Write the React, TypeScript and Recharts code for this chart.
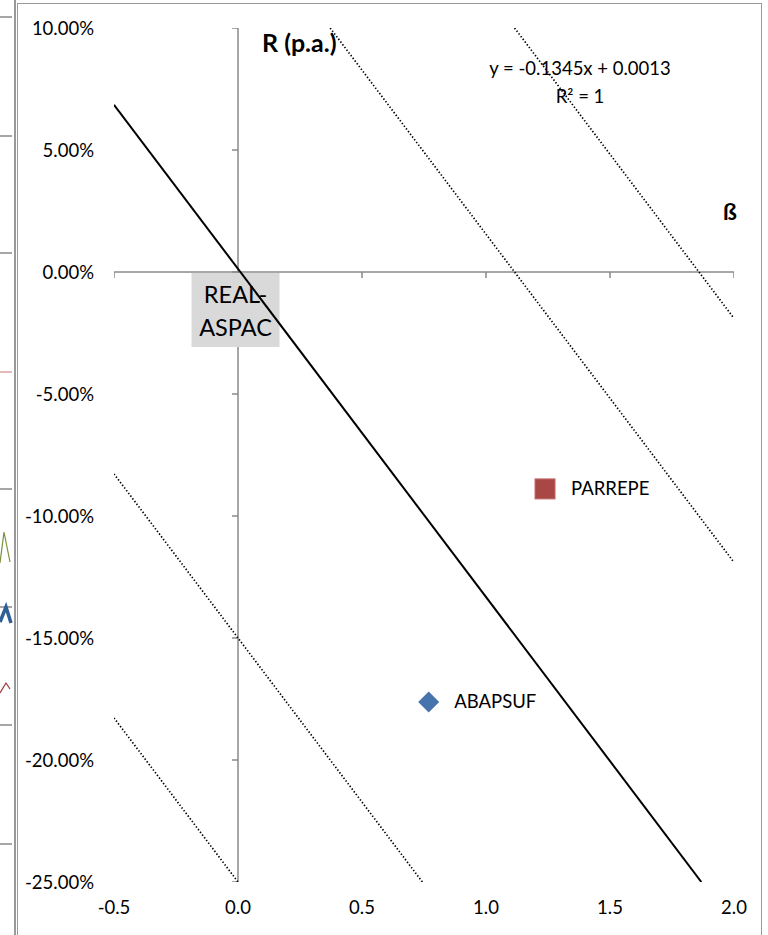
import React from "react";
import { ScatterChart, Scatter, XAxis, YAxis } from "recharts";

// axis scales (beta on x, annual return on y)
const xTicks = [-0.5, 0, 0.5, 1, 1.5, 2];
const yTicks = [-0.25, -0.2, -0.15, -0.1, -0.05, 0, 0.05, 0.1];
const xDomain: [number, number] = [-0.5, 2];
const yDomain: [number, number] = [-0.25, 0.1];

// fitted line y = -0.1345x + 0.0013 and the parallel guide lines
const trendSlope = -0.1345;
const trendIntercept = 0.0013;
const guideIntercepts = [0.25, 0.15, -0.15, -0.25];

// funds
const parrepe = [{ x: 1.238, y: -0.0889, name: "PARREPE" }];
const abapsuf = [{ x: 0.769, y: -0.1762, name: "ABAPSUF" }];
const realAspac = [{ x: -0.01, y: 0.0, name: "REAL-ASPAC" }];

// grey gridline stubs of the neighbouring chart, cut off at the left edge
const strayGridTops = [16, 135, 252, 488, 606, 724, 843];

const FONT = "Lato, 'Open Sans', sans-serif";
const AXIS = "#8a8a8a";

const xAxisPoints = xTicks.map((t) => ({ x: t, y: 0 }));
const yAxisPoints = yTicks.map((t) => ({ x: 0, y: t }));

// keep a line y = m x + b inside the plotted window
function clipLine(m: number, b: number) {
  const pts: { x: number; y: number }[] = [];
  xDomain.forEach((x) => {
    const y = m * x + b;
    if (y >= yDomain[0] - 1e-9 && y <= yDomain[1] + 1e-9) pts.push({ x, y });
  });
  yDomain.forEach((y) => {
    const x = (y - b) / m;
    if (x >= xDomain[0] - 1e-9 && x <= xDomain[1] + 1e-9) pts.push({ x, y });
  });
  pts.sort((a, c) => a.x - c.x);
  return [pts[0], pts[pts.length - 1]];
}

const trendSegment = clipLine(trendSlope, trendIntercept);
const guideSegments = guideIntercepts.map((b) => clipLine(trendSlope, b));

const fmtPct = (v: number) => `${(v * 100).toFixed(2)}%`;

const XTick = ({ x, y, payload }: any) => (
  <text x={x} y={y + 32} textAnchor="middle" fontFamily={FONT} fontSize={18.5} fill="#000">
    {Number(payload.value).toFixed(1)}
  </text>
);

const YTick = ({ x, y, payload }: any) => (
  <text x={x - 20} y={y + 6.5} textAnchor="end" fontFamily={FONT} fontSize={18.5} fill="#000">
    {fmtPct(Number(payload.value))}
  </text>
);

const none = () => <g />;

const xTickMark = ({ cx, cy }: any) => <line x1={cx} x2={cx} y1={cy} y2={cy + 6} stroke={AXIS} strokeWidth={1.5} />;
const yTickMark = ({ cx, cy }: any) => <line x1={cx - 6} x2={cx} y1={cy} y2={cy} stroke={AXIS} strokeWidth={1.5} />;

const squareMark = ({ cx, cy, payload }: any) => (
  <g>
    <rect x={cx - 10} y={cy - 10} width={20} height={20} fill="#a94745" stroke="#c06a68" strokeWidth={1} />
    <text x={cx + 26} y={cy + 6.5} fontFamily={FONT} fontSize={18.5} fill="#000">
      {payload.name}
    </text>
  </g>
);

const diamondMark = ({ cx, cy, payload }: any) => (
  <g>
    <path d={`M${cx},${cy - 10.5} L${cx + 10.5},${cy} L${cx},${cy + 10.5} L${cx - 10.5},${cy} Z`} fill="#4874ad" />
    <text x={cx + 25.5} y={cy + 6.5} fontFamily={FONT} fontSize={18.5} fill="#000">
      {payload.name}
    </text>
  </g>
);

const labelBox = ({ cx, cy, payload }: any) => {
  const [a, b] = String(payload.name).split("-");
  return (
    <g>
      <rect x={cx - 44} y={cy + 1} width={88} height={74} fill="#d9d9d9" />
      <text x={cx} y={cy + 31} textAnchor="middle" fontFamily={FONT} fontSize={23.5} fill="#000">
        {a}-
      </text>
      <text x={cx} y={cy + 64} textAnchor="middle" fontFamily={FONT} fontSize={23.5} fill="#000">
        {b}
      </text>
    </g>
  );
};

export default function App() {
  return (
    <div style={{ position: "absolute", left: 0, top: 0, width: 768, height: 935, background: "#fff", overflow: "hidden" }}>
      {strayGridTops.map((t) => (
        <div key={t} style={{ position: "absolute", left: 0, top: t, width: 12, height: 1.5, background: "#a6a6a6" }} />
      ))}
      <div style={{ position: "absolute", left: 0, top: 371, width: 12, height: 1.5, background: "#e3b9b9" }} />
      <svg width={14} height={935} style={{ position: "absolute", left: 0, top: 0 }}>
        <polyline points="0,563 4,532 10,562" fill="none" stroke="#77933c" strokeWidth={1.2} />
        <polyline points="0,622 6,607 11,623" fill="none" stroke="#2f5f96" strokeWidth={3.5} />
        <polyline points="0,693 6,683 10,689" fill="none" stroke="#953735" strokeWidth={1.2} />
      </svg>
      <div style={{ position: "absolute", left: 14, top: 0, width: 1.5, height: 935, background: "#9a9a9a" }} />
      <div
        style={{
          position: "absolute",
          left: 17,
          top: 3,
          width: 745,
          height: 960,
          border: "1.5px solid #9a9a9a",
          boxSizing: "border-box",
        }}
      />
      <div style={{ position: "absolute", left: 0, top: 0 }}>
        <ScatterChart width={768} height={935} margin={{ top: 28, right: 34, bottom: 0, left: 0 }}>
          <XAxis
            type="number"
            dataKey="x"
            domain={xDomain}
            ticks={xTicks}
            interval={0}
            allowDataOverflow
            axisLine={false}
            tickLine={false}
            tickSize={0}
            tickMargin={0}
            height={53}
            tick={<XTick />}
          />
          <YAxis
            type="number"
            dataKey="y"
            domain={yDomain}
            ticks={yTicks}
            interval={0}
            allowDataOverflow
            axisLine={false}
            tickLine={false}
            tickSize={0}
            tickMargin={0}
            width={114}
            tick={<YTick />}
          />
          <Scatter data={xAxisPoints} line={{ stroke: AXIS, strokeWidth: 1.5 }} shape={xTickMark} isAnimationActive={false} />
          <Scatter data={yAxisPoints} line={{ stroke: AXIS, strokeWidth: 1.5 }} shape={yTickMark} isAnimationActive={false} />
          <Scatter data={realAspac} shape={labelBox} isAnimationActive={false} />
          {guideSegments.map((seg, i) => (
            <Scatter
              key={i}
              data={seg}
              line={{ stroke: "#000", strokeWidth: 1.7, strokeDasharray: "1.4 2" }}
              shape={none}
              isAnimationActive={false}
            />
          ))}
          <Scatter data={trendSegment} line={{ stroke: "#000", strokeWidth: 2 }} shape={none} isAnimationActive={false} />
          <Scatter data={parrepe} shape={squareMark} isAnimationActive={false} />
          <Scatter data={abapsuf} shape={diamondMark} isAnimationActive={false} />
        </ScatterChart>
      </div>
      <svg width={768} height={935} style={{ position: "absolute", left: 0, top: 0, pointerEvents: "none" }}>
        <text x={262} y={52} fontFamily={FONT} fontSize={25} fontWeight="bold" fill="#000">
          R (p.a.)
        </text>
        <text x={723} y={220} fontFamily={FONT} fontSize={23} fontWeight="bold" fill="#000">
          ß
        </text>
        <text x={580} y={75} textAnchor="middle" fontFamily={FONT} fontSize={18.5} fill="#000">
          y = -0.1345x + 0.0013
        </text>
        <text x={580} y={103} textAnchor="middle" fontFamily={FONT} fontSize={18.5} fill="#000">
          R² = 1
        </text>
      </svg>
    </div>
  );
}
